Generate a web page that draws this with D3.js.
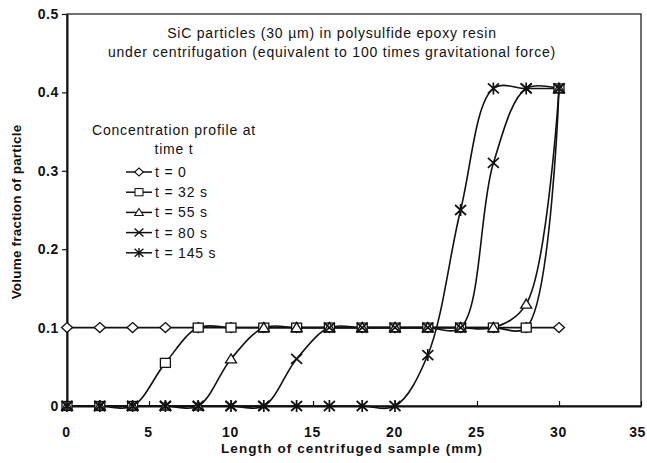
<!DOCTYPE html>
<html>
<head>
<meta charset="utf-8">
<script src="https://cdn.jsdelivr.net/npm/d3@7"></script>
<style>
  body { margin: 0; background: #fff; }
  svg { font-family: "Liberation Sans", Arial, sans-serif; }
</style>
</head>
<body>
<svg id="chart" width="647" height="463"></svg>
<script>
// positions along the sample (mm)
var xs = [0, 2, 4, 6, 8, 10, 12, 14, 16, 18, 20, 22, 24, 26, 28, 30];

var t0   = [0.1, 0.1, 0.1, 0.1, 0.1, 0.1, 0.1, 0.1, 0.1, 0.1, 0.1, 0.1, 0.1, 0.1, 0.1, 0.1];
var t32  = [0, 0, 0, 0.055, 0.1, 0.1, 0.1, 0.1, 0.1, 0.1, 0.1, 0.1, 0.1, 0.1, 0.1, 0.405];
var t55  = [0, 0, 0, 0, 0, 0.06, 0.1, 0.1, 0.1, 0.1, 0.1, 0.1, 0.1, 0.1, 0.13, 0.405];
var t80  = [0, 0, 0, 0, 0, 0, 0, 0.06, 0.1, 0.1, 0.1, 0.1, 0.1, 0.31, 0.405, 0.405];
var t145 = [0, 0, 0, 0, 0, 0, 0, 0, 0, 0, 0, 0.065, 0.25, 0.405, 0.405, 0.405];

var seriesNames = ["t = 0", "t = 32 s", "t = 55 s", "t = 80 s", "t = 145 s"];
var markers = ["diamond", "square", "triangle", "cross", "asterisk"];
var xTicks = [0, 5, 10, 15, 20, 25, 30, 35];
var yTicks = [0, 0.1, 0.2, 0.3, 0.4, 0.5];

var series = [t0, t32, t55, t80, t145].map(function(vals, i) {
  return { name: seriesNames[i], marker: markers[i],
           pts: vals.map(function(v, j) { return [xs[j], v]; }) };
});

var svg = d3.select("#chart");
var mLeft = 67, mRight = 641, mTop = 14, mBottom = 406;

var x = d3.scaleLinear().domain([0, 35]).range([mLeft, mRight]);
var y = d3.scaleLinear().domain([0, 0.5]).range([mBottom, mTop]);

// frame
svg.append("rect")
  .attr("x", mLeft).attr("y", mTop)
  .attr("width", mRight - mLeft).attr("height", mBottom - mTop)
  .attr("fill", "none").attr("stroke", "#111").attr("stroke-width", 1.2);

// axes
var xAxis = d3.axisBottom(x).tickValues(xTicks).tickSizeInner(-5).tickSizeOuter(0).tickPadding(21);
var gx = svg.append("g").attr("transform", "translate(0," + mBottom + ")").call(xAxis);
var yAxis = d3.axisLeft(y).tickValues(yTicks).tickSizeInner(5).tickSizeOuter(0).tickPadding(3)
  .tickFormat(function(d) { return d === 0 ? "0" : d3.format(".1f")(d); });
var gy = svg.append("g").attr("transform", "translate(" + mLeft + ",0)").call(yAxis);

[gx, gy].forEach(function(g) {
  g.select(".domain").attr("stroke", "#111").attr("stroke-width", 2);
  g.selectAll(".tick line").attr("stroke", "#111").attr("stroke-width", 1.2);
  g.selectAll(".tick text").attr("fill", "#111")
    .attr("font-size", 14).attr("font-weight", "bold").attr("letter-spacing", 0.6)
    .attr("font-family", "Liberation Sans, Arial, sans-serif");
});
gx.selectAll(".tick text").attr("dx", -1);
// last label sits against the right edge, as in the original
gx.selectAll(".tick text").filter(function(d) { return d === 35; })
  .attr("text-anchor", "end").attr("dx", 4).attr("letter-spacing", 0.3);

// lines
var line = d3.line()
  .x(function(d) { return x(d[0]); })
  .y(function(d) { return y(d[1]); })
  .curve(d3.curveCatmullRom.alpha(0.5));

svg.append("g").selectAll("path.series")
  .data(series).enter().append("path")
  .attr("class", "series")
  .attr("d", function(d) { return line(d.pts); })
  .attr("fill", "none").attr("stroke", "#111").attr("stroke-width", 1.6);

function drawMarker(g, type, k) {
  k = k || 1;
  if (type === "diamond") {
    g.append("path").attr("d", "M0,-5L5.5,0L0,5L-5.5,0Z")
      .attr("transform", "scale(" + k + ")")
      .attr("fill", "#fff").attr("stroke", "#111").attr("stroke-width", 1.3);
  } else if (type === "square") {
    g.append("rect").attr("x", -5).attr("y", -4.5).attr("width", 10).attr("height", 9)
      .attr("transform", "scale(" + k + ")")
      .attr("fill", "#fff").attr("stroke", "#111").attr("stroke-width", 1.3);
  } else if (type === "triangle") {
    g.append("path").attr("d", "M0,-5L5.5,4L-5.5,4Z")
      .attr("transform", "scale(" + k + ")")
      .attr("fill", "#fff").attr("stroke", "#111").attr("stroke-width", 1.3);
  } else if (type === "cross") {
    g.append("path").attr("d", "M-5.5,-5L5.5,5M-5.5,5L5.5,-5")
      .attr("transform", "scale(" + k + ")")
      .attr("stroke", "#111").attr("stroke-width", 1.7);
  } else {
    g.append("path").attr("d", "M-5.5,-5L5.5,5M-5.5,5L5.5,-5M0,-6L0,6")
      .attr("transform", "scale(" + k + ")")
      .attr("stroke", "#111").attr("stroke-width", 1.7);
  }
}

series.forEach(function(s) {
  var gm = svg.append("g");
  s.pts.forEach(function(p) {
    var g = gm.append("g").attr("transform", "translate(" + x(p[0]) + "," + y(p[1]) + ")");
    drawMarker(g, s.marker);
  });
});

// title
var title = svg.append("text").attr("font-size", 14).attr("letter-spacing", 0.8)
  .attr("fill", "#111").attr("text-anchor", "middle");
title.append("tspan").attr("x", 332).attr("y", 38).text("SiC particles (30 \u00b5m)  in polysulfide epoxy resin");
title.append("tspan").attr("x", 332).attr("y", 57).text("under centrifugation (equivalent to 100 times gravitational force)");

// legend
var leg = svg.append("g").attr("fill", "#111").attr("font-size", 14).attr("letter-spacing", 0.8);
leg.append("text").attr("x", 174).attr("y", 135).attr("text-anchor", "middle").text("Concentration profile at");
leg.append("text").attr("x", 174).attr("y", 154).attr("text-anchor", "middle").text("time t");
series.forEach(function(s, i) {
  var yy = 172 + i * 20.2;
  leg.append("line").attr("x1", 126).attr("x2", 152).attr("y1", yy).attr("y2", yy)
    .attr("stroke", "#111").attr("stroke-width", 1.5);
  drawMarker(leg.append("g").attr("transform", "translate(139," + yy + ")"), s.marker, 0.8);
  leg.append("text").attr("x", 155).attr("y", yy + 5).text(s.name);
});

// axis titles
svg.append("text").attr("x", 352).attr("y", 453).attr("text-anchor", "middle")
  .attr("font-size", 13.5).attr("font-weight", "bold").attr("letter-spacing", 1.1).attr("fill", "#111")
  .text("Length of centrifuged sample (mm)");
svg.append("text").attr("transform", "translate(21,212) rotate(-90)").attr("text-anchor", "middle")
  .attr("font-size", 13.5).attr("font-weight", "bold").attr("letter-spacing", 0.2).attr("fill", "#111")
  .text("Volume fraction of particle");
</script>
</body>
</html>
